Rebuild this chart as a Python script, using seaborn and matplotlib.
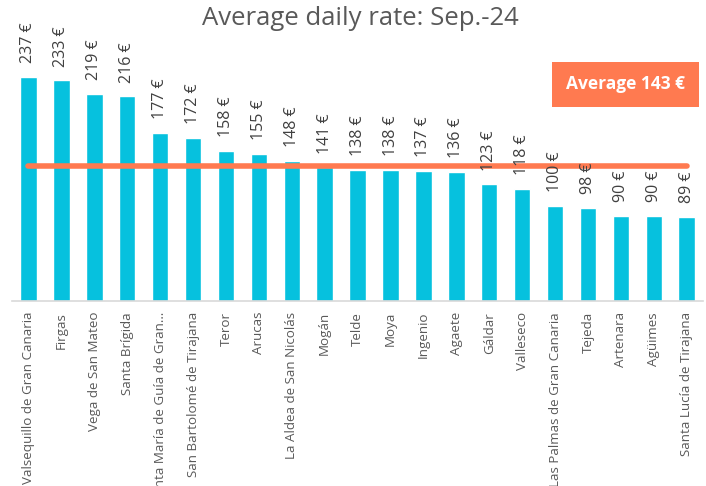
import matplotlib
matplotlib.use("Agg")
import matplotlib.pyplot as plt
import seaborn as sns
import pandas as pd

# Data
municipios = [
    "Valsequillo de Gran Canaria", "Firgas", "Vega de San Mateo", "Santa Brígida",
    "Santa María de Guía de Gran…", "San Bartolomé de Tirajana", "Teror", "Arucas",
    "La Aldea de San Nicolás", "Mogán", "Telde", "Moya", "Ingenio", "Agaete",
    "Gáldar", "Valleseco", "Las Palmas de Gran Canaria", "Tejeda", "Artenara",
    "Agüimes", "Santa Lucía de Tirajana",
]
adr = [237, 233, 219, 216, 177, 172, 158, 155, 148, 141, 138, 138, 137, 136,
       123, 118, 100, 98, 90, 90, 89]
average = 143

bar_color = "#06C1DE"
avg_color = "#FF7A50"
text_grey = "#595959"

sns.set_theme(style="white")
plt.rcParams["font.family"] = ["Open Sans", "DejaVu Sans"]

df = pd.DataFrame({"municipio": municipios, "adr": adr})

fig = plt.figure(figsize=(7.06, 4.86), dpi=100)
ax = fig.add_axes([0.017, 0.381, 0.979, 0.584])

sns.barplot(data=df, x="municipio", y="adr", ax=ax, color=bar_color,
            width=0.5, saturation=1)

# average line across the bars
avg_df = pd.DataFrame({"x": range(len(municipios)), "y": [average] * len(municipios)})
ax.plot(avg_df["x"], avg_df["y"], color=avg_color, linewidth=4, solid_capstyle="round")

# value labels
for i, v in enumerate(adr):
    ax.annotate(f"{v} €", (i, v), xytext=(0, 10), textcoords="offset points",
                rotation=90, ha="center", va="bottom", fontsize=11.5, color="#404040")

ax.set_ylim(0, 300)
ax.set_xlim(-0.5, len(municipios) - 0.5)
ax.set_yticks([])
ax.set_xlabel("")
ax.set_ylabel("")
ax.set_xticks(range(len(municipios)))
ax.set_xticklabels(municipios, rotation=90, fontsize=9.6, color=text_grey)
ax.tick_params(axis="x", length=0, pad=8)
for s in ["top", "right", "left"]:
    ax.spines[s].set_visible(False)
ax.spines["bottom"].set_color("#D9D9D9")
ax.spines["bottom"].set_linewidth(1.2)

fig.text(0.51, 0.962, "Average daily rate: Sep.-24", ha="center", va="center",
         fontsize=18.5, color=text_grey)

fig.text(0.886, 0.827, "Average 143 €", ha="center", va="center", fontsize=12.5,
         fontweight="bold", color="white",
         bbox=dict(boxstyle="square,pad=0.78", facecolor=avg_color, edgecolor="none"))

fig.savefig("out.png", dpi=100, facecolor="white")
